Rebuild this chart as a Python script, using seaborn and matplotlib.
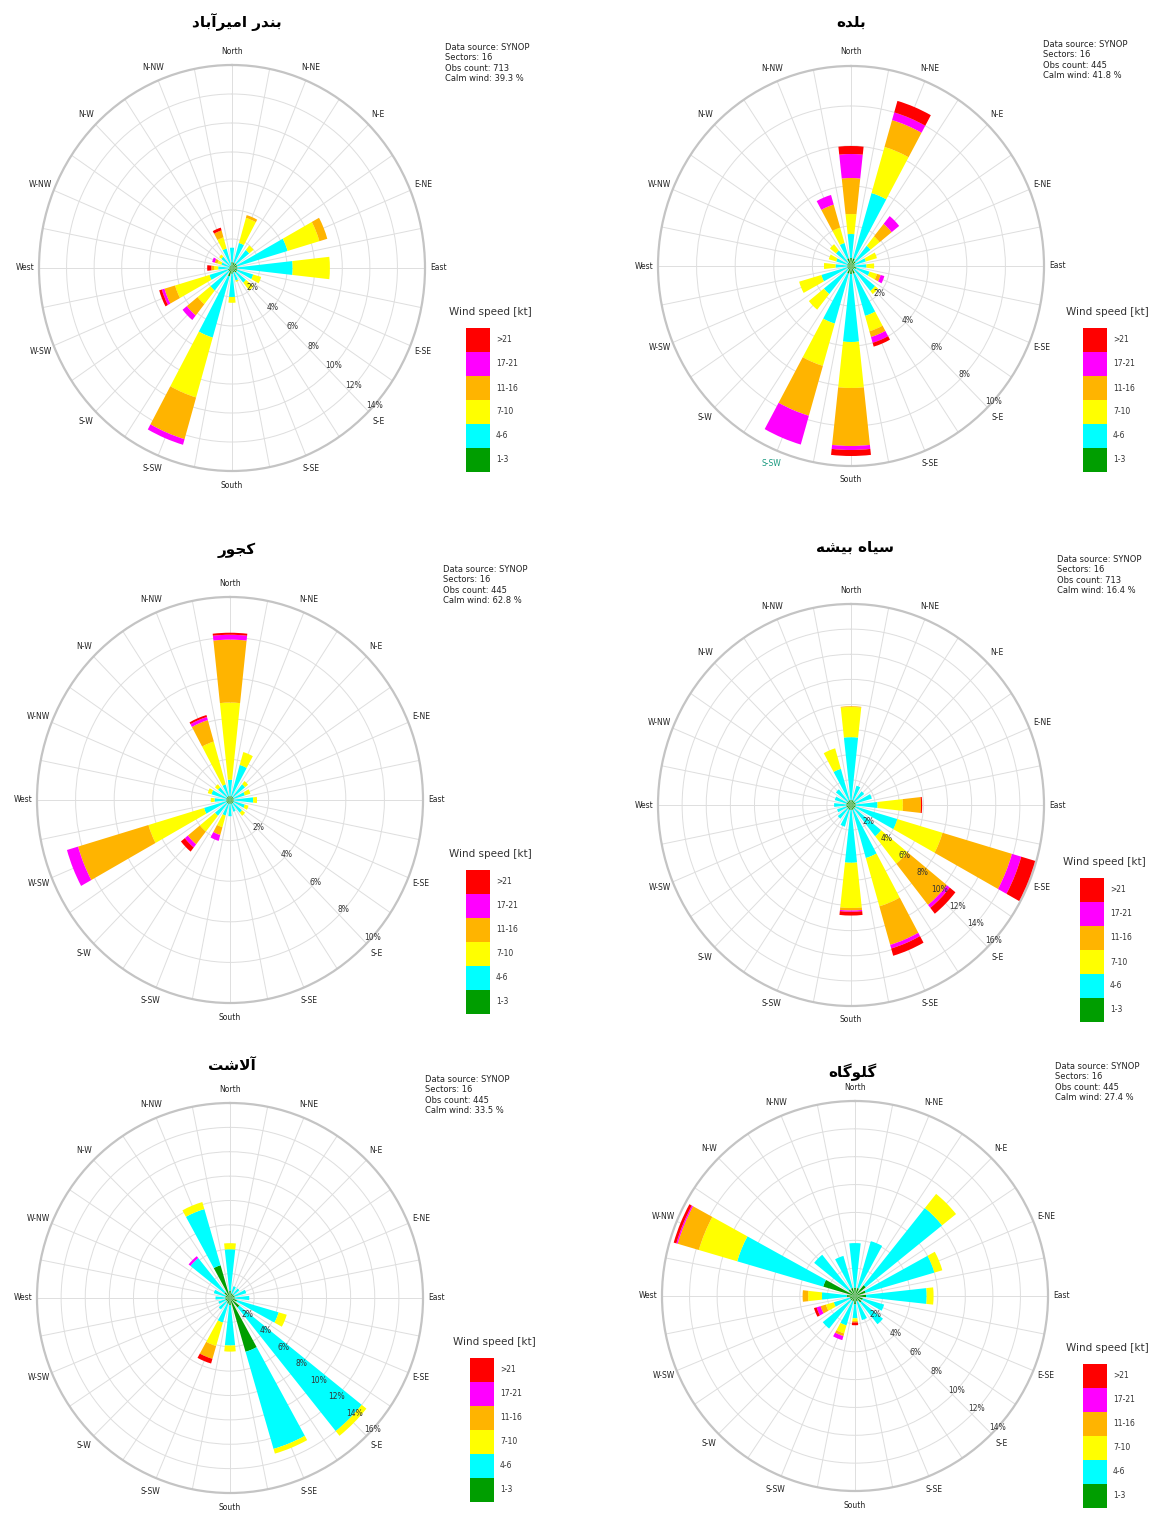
import numpy as np
import matplotlib
matplotlib.use("Agg")
import matplotlib.pyplot as plt
from matplotlib.patches import Rectangle
import seaborn as sns

# ---------------------------------------------------------------- data
stations = ["بندر امیرآباد", "بلده", "کجور", "سیاه بیشه", "آلاشت", "گلوگاه"]
obs_counts = [713, 445, 445, 713, 445, 445]
calm_wind = [39.3, 41.8, 62.8, 16.4, 33.5, 27.4]
ring_counts = [7, 5, 5, 8, 8, 7]
ring_step = 2

direction_labels = ["North", "N-NE", "N-E", "E-NE", "East", "E-SE", "S-E", "S-SE",
                    "South", "S-SW", "S-W", "W-SW", "West", "W-NW", "N-W", "N-NW"]
speed_classes = ["1-3", "4-6", "7-10", "11-16", "17-21", ">21"]

# frequency (%) per direction (N, NNE, ... NNW) and speed class (1-3 ... >21 kt)
freq_amirabad = [
    [0.4, 1.0, 0.0, 0.0, 0.0, 0.0],
    [0.4, 1.4, 1.8, 0.2, 0.0, 0.0],
    [0.4, 1.2, 0.4, 0.0, 0.0, 0.0],
    [0.4, 3.8, 2.4, 0.6, 0.0, 0.0],
    [0.4, 4.0, 2.7, 0.0, 0.0, 0.0],
    [0.4, 1.2, 0.6, 0.0, 0.0, 0.0],
    [0.4, 0.9, 0.7, 0.0, 0.0, 0.0],
    [0.3, 0.6, 0.1, 0.0, 0.0, 0.0],
    [0.4, 1.6, 0.4, 0.0, 0.0, 0.0],
    [0.6, 4.4, 4.3, 3.0, 0.4, 0.0],
    [0.3, 1.7, 1.2, 1.0, 0.4, 0.0],
    [0.3, 1.4, 2.6, 0.8, 0.2, 0.2],
    [0.2, 0.8, 0.3, 0.2, 0.0, 0.3],
    [0.2, 0.6, 0.3, 0.2, 0.2, 0.0],
    [0.2, 0.8, 0.2, 0.0, 0.0, 0.0],
    [0.2, 1.2, 0.8, 0.5, 0.0, 0.2],
]
freq_baladeh = [
    [0.4, 1.2, 1.0, 1.8, 1.2, 0.4],
    [0.4, 3.4, 2.4, 1.4, 0.4, 0.6],
    [0.3, 1.0, 0.6, 0.8, 0.5, 0.0],
    [0.2, 0.6, 0.6, 0.0, 0.0, 0.0],
    [0.2, 0.6, 0.4, 0.0, 0.0, 0.0],
    [0.3, 0.7, 0.4, 0.2, 0.2, 0.0],
    [0.2, 1.4, 0.2, 0.0, 0.0, 0.0],
    [0.4, 2.2, 0.8, 0.3, 0.3, 0.2],
    [0.4, 3.4, 2.3, 2.9, 0.2, 0.3],
    [0.4, 2.6, 2.2, 2.6, 1.5, 0.0],
    [0.2, 1.6, 1.0, 0.0, 0.0, 0.0],
    [0.2, 1.4, 1.2, 0.0, 0.0, 0.0],
    [0.2, 0.6, 0.6, 0.0, 0.0, 0.0],
    [0.2, 0.6, 0.4, 0.0, 0.0, 0.0],
    [0.2, 0.8, 0.4, 0.0, 0.0, 0.0],
    [0.4, 0.8, 0.8, 1.2, 0.5, 0.0],
]
freq_kojur = [
    [0.2, 0.8, 3.8, 3.1, 0.24, 0.1],
    [0.2, 1.6, 0.66, 0.0, 0.0, 0.0],
    [0.2, 0.8, 0.2, 0.0, 0.0, 0.0],
    [0.2, 0.6, 0.3, 0.0, 0.0, 0.0],
    [0.2, 1.0, 0.2, 0.0, 0.0, 0.0],
    [0.2, 0.6, 0.2, 0.0, 0.0, 0.0],
    [0.2, 0.6, 0.2, 0.0, 0.0, 0.0],
    [0.2, 0.4, 0.0, 0.0, 0.0, 0.0],
    [0.2, 0.6, 0.0, 0.0, 0.0, 0.0],
    [0.2, 0.6, 0.6, 0.4, 0.3, 0.0],
    [0.2, 0.8, 1.0, 0.8, 0.2, 0.26],
    [0.2, 1.2, 3.0, 3.8, 0.6, 0.0],
    [0.2, 0.6, 0.2, 0.0, 0.0, 0.0],
    [0.2, 0.8, 0.2, 0.0, 0.0, 0.0],
    [0.2, 0.6, 0.2, 0.0, 0.0, 0.0],
    [0.2, 0.6, 2.2, 1.1, 0.16, 0.1],
]
freq_siahbisheh = [
    [0.4, 5.0, 2.4, 0.06, 0.0, 0.0],
    [0.4, 1.2, 0.0, 0.0, 0.0, 0.0],
    [0.4, 1.0, 0.0, 0.0, 0.0, 0.0],
    [0.4, 1.4, 0.0, 0.0, 0.0, 0.0],
    [0.4, 1.8, 2.1, 1.5, 0.0, 0.1],
    [0.4, 3.6, 3.9, 6.0, 0.8, 1.2],
    [0.4, 2.8, 2.8, 4.2, 0.3, 0.6],
    [0.4, 4.0, 4.0, 3.2, 0.3, 0.6],
    [0.4, 4.2, 3.6, 0.2, 0.1, 0.3],
    [0.4, 1.4, 0.0, 0.0, 0.0, 0.0],
    [0.4, 1.0, 0.0, 0.0, 0.0, 0.0],
    [0.4, 0.8, 0.0, 0.0, 0.0, 0.0],
    [0.4, 1.0, 0.0, 0.0, 0.0, 0.0],
    [0.4, 1.0, 0.0, 0.0, 0.0, 0.0],
    [0.4, 1.2, 0.0, 0.0, 0.0, 0.0],
    [0.4, 2.6, 1.7, 0.0, 0.0, 0.0],
]
freq_alasht = [
    [0.6, 3.4, 0.5, 0.0, 0.0, 0.0],
    [0.4, 0.6, 0.0, 0.0, 0.0, 0.0],
    [0.4, 0.6, 0.0, 0.0, 0.0, 0.0],
    [0.4, 1.0, 0.0, 0.0, 0.0, 0.0],
    [0.4, 1.2, 0.0, 0.0, 0.0, 0.0],
    [0.6, 3.6, 0.7, 0.0, 0.0, 0.0],
    [1.0, 13.0, 0.5, 0.0, 0.0, 0.0],
    [4.6, 8.3, 0.4, 0.0, 0.0, 0.0],
    [0.6, 3.3, 0.5, 0.0, 0.0, 0.0],
    [0.5, 1.6, 2.0, 1.1, 0.0, 0.4],
    [0.4, 0.8, 0.0, 0.0, 0.0, 0.0],
    [0.4, 0.6, 0.0, 0.0, 0.0, 0.0],
    [0.4, 0.8, 0.0, 0.0, 0.0, 0.0],
    [0.4, 1.0, 0.0, 0.0, 0.0, 0.0],
    [0.6, 3.6, 0.0, 0.0, 0.2, 0.0],
    [2.8, 4.8, 0.6, 0.0, 0.0, 0.0],
]
freq_galugah = [
    [0.6, 3.2, 0.0, 0.0, 0.0, 0.0],
    [0.6, 3.5, 0.0, 0.0, 0.0, 0.0],
    [1.0, 7.1, 1.3, 0.0, 0.0, 0.0],
    [0.8, 5.2, 0.6, 0.0, 0.0, 0.0],
    [0.8, 4.4, 0.5, 0.0, 0.0, 0.0],
    [0.6, 1.6, 0.0, 0.0, 0.0, 0.0],
    [0.6, 2.0, 0.0, 0.0, 0.0, 0.0],
    [0.4, 1.4, 0.0, 0.0, 0.0, 0.0],
    [0.6, 1.0, 0.2, 0.1, 0.0, 0.2],
    [0.4, 1.8, 0.6, 0.2, 0.3, 0.0],
    [0.4, 2.6, 0.0, 0.0, 0.0, 0.0],
    [0.4, 1.2, 0.6, 0.4, 0.3, 0.2],
    [0.6, 1.8, 1.0, 0.4, 0.0, 0.0],
    [2.4, 6.5, 2.9, 1.6, 0.1, 0.2],
    [0.6, 3.2, 0.0, 0.0, 0.0, 0.0],
    [0.6, 2.4, 0.0, 0.0, 0.0, 0.0],
]
station_freqs = [freq_amirabad, freq_baladeh, freq_kojur,
                 freq_siahbisheh, freq_alasht, freq_galugah]

# ---------------------------------------------------------------- style
sns.set_theme(style="white")
plt.rcParams["font.family"] = ["DejaVu Sans"]
speed_palette = sns.color_palette(["#009e00", "#00ffff", "#ffff00",
                                   "#ffb400", "#ff00ff", "#ff0000"])

W, H = 1167, 1515
RX = 193

# panel layout in pixels: rose centre and vertical radius, title, info box, legend
panel_centres = [(232, 268), (851, 266), (230, 800), (851, 805), (230, 1298), (855, 1296)]
panel_ry = [203, 200, 203, 201, 195, 195]
title_pos = [(237, 22), (851, 22), (237, 550), (855, 547), (232, 1065), (852, 1072)]
info_pos = [(445, 43), (1043, 40), (443, 565), (1057, 555), (425, 1075), (1055, 1062)]
legend_pos = [(466, 328), (1083, 328), (466, 870), (1080, 878), (470, 1358), (1083, 1364)]
BOX = 24
LABEL_GAP = 14   # px between rim and compass labels


# ---------------------------------------------------------------- Persian shaping
_FORMS = {
    "ا": (0xFE8D, 0xFE8E, None, None), "آ": (0xFE81, 0xFE82, None, None),
    "ب": (0xFE8F, 0xFE90, 0xFE91, 0xFE92), "پ": (0xFB56, 0xFB57, 0xFB58, 0xFB59),
    "ت": (0xFE95, 0xFE96, 0xFE97, 0xFE98), "ج": (0xFE9D, 0xFE9E, 0xFE9F, 0xFEA0),
    "د": (0xFEA9, 0xFEAA, None, None), "ر": (0xFEAD, 0xFEAE, None, None),
    "س": (0xFEB1, 0xFEB2, 0xFEB3, 0xFEB4), "ش": (0xFEB5, 0xFEB6, 0xFEB7, 0xFEB8),
    "ک": (0xFB8E, 0xFB8F, 0xFB90, 0xFB91), "گ": (0xFB92, 0xFB93, 0xFB94, 0xFB95),
    "ل": (0xFEDD, 0xFEDE, 0xFEDF, 0xFEE0), "م": (0xFEE1, 0xFEE2, 0xFEE3, 0xFEE4),
    "ن": (0xFEE5, 0xFEE6, 0xFEE7, 0xFEE8), "ه": (0xFEE9, 0xFEEA, 0xFEEB, 0xFEEC),
    "و": (0xFEED, 0xFEEE, None, None), "ی": (0xFBFC, 0xFBFD, 0xFBFE, 0xFBFF),
}
_LAM_ALEF = {"ا": (0xFEFB, 0xFEFC), "آ": (0xFEF5, 0xFEF6)}


def shape_persian(text):
    """Contextual letter forms in visual (right-to-left) order."""
    chars, out, prev, i = list(text), [], None, 0

    def joins_next(c):
        return c in _FORMS and _FORMS[c][2] is not None

    while i < len(chars):
        c = chars[i]
        if c not in _FORMS:
            out.append(c)
            prev, i = None, i + 1
            continue
        link_prev = prev is not None and joins_next(prev)
        if c == "ل" and i + 1 < len(chars) and chars[i + 1] in _LAM_ALEF:
            iso, fin = _LAM_ALEF[chars[i + 1]]
            out.append(chr(fin if link_prev else iso))
            prev, i = "ا", i + 2
            continue
        nxt = chars[i + 1] if i + 1 < len(chars) else None
        link_next = joins_next(c) and nxt in _FORMS
        iso, fin, ini, med = _FORMS[c]
        if link_prev and link_next:
            g = med
        elif link_prev:
            g = fin
        elif link_next:
            g = ini
        else:
            g = iso
        out.append(chr(g))
        prev, i = c, i + 1
    return "".join(reversed(out))


def fx(x):
    return x / W


def fy(y):
    return 1 - y / H


fig = plt.figure(figsize=(W / 100, H / 100), dpi=100, facecolor="white")
theta = np.deg2rad(np.arange(16) * 22.5)

for k in range(6):
    cx, cy = panel_centres[k]
    ry = panel_ry[k]
    freq = np.asarray(station_freqs[k], dtype=float)
    n_rings = ring_counts[k]
    rmax = n_rings * ring_step

    ax = fig.add_axes([fx(cx - RX), fy(cy + ry), 2 * RX / W, 2 * ry / H],
                      projection="polar")
    ax.set_theta_zero_location("N")
    ax.set_theta_direction(-1)

    bottom = np.zeros(16)
    for s in range(len(speed_classes)):
        ax.bar(theta, freq[:, s], width=np.deg2rad(12.5), bottom=bottom,
               color=speed_palette[s], edgecolor="none", linewidth=0, zorder=3)
        bottom += freq[:, s]

    ax.set_ylim(0, rmax)
    rings = np.arange(1, n_rings + 1) * ring_step
    ax.set_yticks(rings)
    ax.set_yticklabels([])
    ax.set_xticks(np.deg2rad(np.arange(0, 360, 11.25)))
    ax.set_xticklabels([])
    ax.grid(True, color="#dedede", linewidth=0.7)
    ax.spines["polar"].set_color("#c4c4c4")
    ax.spines["polar"].set_linewidth(1.6)
    ax.set_facecolor("white")
    ax.set_aspect("auto")

    for r in rings:
        ax.text(np.deg2rad(132.5), r, f"{r}%", fontsize=5.5, color="#333333",
                ha="center", va="center", zorder=6)

    for d, lab in enumerate(direction_labels):
        # place the compass label a fixed pixel gap outside the rim
        px = cx + (RX + LABEL_GAP) * np.sin(theta[d])
        py = cy - (ry + LABEL_GAP) * np.cos(theta[d])
        colour = "#1a9a80" if (k == 1 and lab == "S-SW") else "#222222"
        fig.text(fx(px), fy(py), lab, fontsize=5.5, color=colour,
                 ha="center", va="center")

    # station name
    tx, ty = title_pos[k]
    fig.text(fx(tx), fy(ty), shape_persian(stations[k]), fontsize=11,
             fontweight="bold", ha="center", va="center", color="black")

    # info block
    ix, iy = info_pos[k]
    info = (f"Data source: SYNOP\nSectors: 16\nObs count: {obs_counts[k]}\n"
            f"Calm wind: {calm_wind[k]} %")
    fig.text(fx(ix), fy(iy), info, fontsize=6, ha="left", va="top",
             linespacing=1.2, color="#222222")

    # speed legend
    lx, ly = legend_pos[k]
    fig.text(fx(lx + 24), fy(ly - 16), "Wind speed [kt]", fontsize=7.5,
             ha="center", va="center", color="#333333")
    for s in range(len(speed_classes)):
        row = len(speed_classes) - 1 - s
        y_top = ly + row * BOX
        fig.add_artist(Rectangle((fx(lx), fy(y_top + BOX)), BOX / W, BOX / H,
                                 transform=fig.transFigure,
                                 facecolor=speed_palette[s], edgecolor="none"))
        fig.text(fx(lx + BOX + 6), fy(y_top + BOX / 2), speed_classes[s],
                 fontsize=5.5, ha="left", va="center", color="#333333")

fig.savefig("out.png", dpi=100, facecolor="white")
